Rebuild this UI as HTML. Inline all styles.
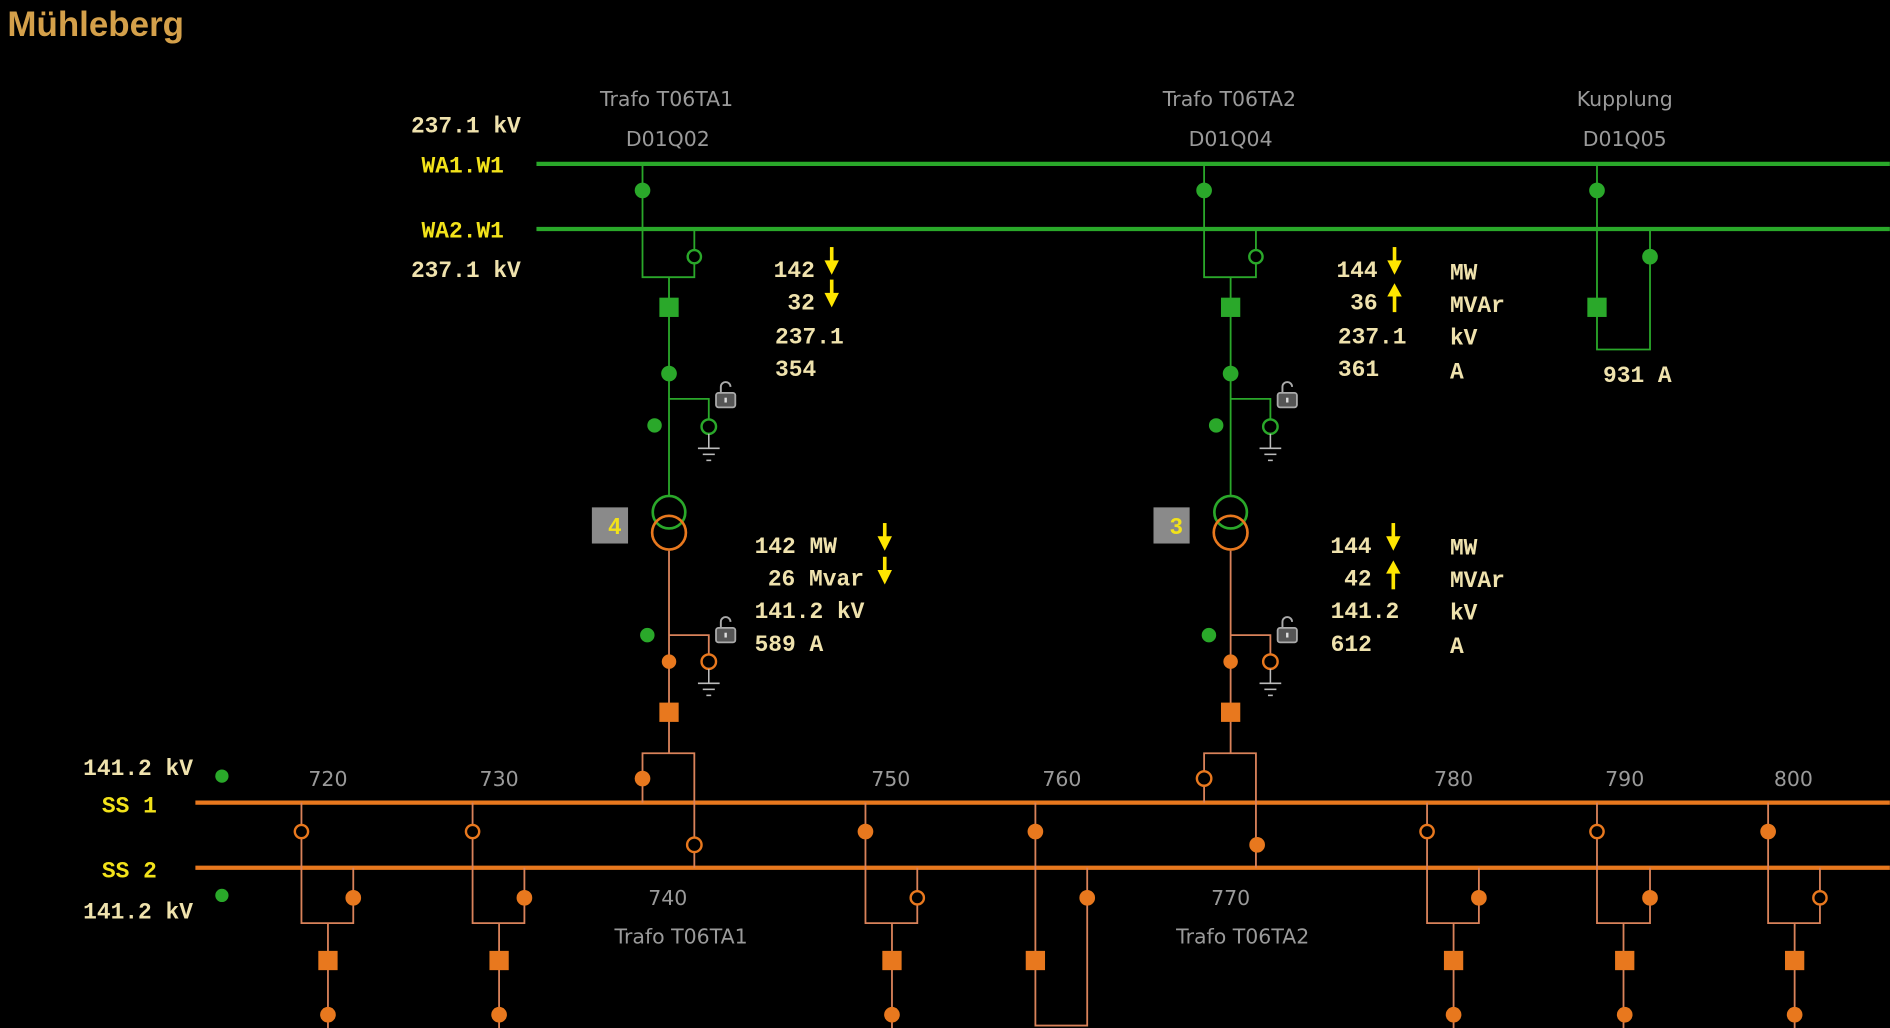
<!DOCTYPE html>
<html><head><meta charset="utf-8"><style>
html,body{margin:0;padding:0;background:#000;}
svg{display:block}
.g{stroke:#2aa82a;fill:none;stroke-width:1.5}
.o{stroke:#d9825a;fill:none;stroke-width:1.5}
.v{font-family:"Liberation Mono",monospace;font-weight:bold;font-size:19px;fill:#efe2ad}
.l{font-family:"DejaVu Sans","Liberation Sans",sans-serif;font-size:17px;fill:#9a9a9a}
.y{font-family:"Liberation Mono",monospace;font-weight:bold;font-size:19px;fill:#f2e21a}
</style></head><body>
<svg width="1890" height="1028" viewBox="0 0 1568 853" xmlns="http://www.w3.org/2000/svg">
<defs>
<g id="gnd" stroke="#bbb" stroke-width="1.3"><line x1="0" y1="0" x2="0" y2="12"/><line x1="-9" y1="12" x2="9" y2="12"/><line x1="-5" y1="17" x2="5" y2="17"/><line x1="-2" y1="22" x2="2" y2="22"/></g>
<g id="lock"><path d="M-4,-2 v-5 a4,4 0 0 1 8,0" stroke="#aaa" stroke-width="1.6" fill="none"/><rect x="-8" y="-2" width="16" height="12" rx="2" fill="#555" stroke="#aaa" stroke-width="1.5"/><rect x="-1" y="2" width="2" height="4" fill="#ddd"/></g>
<g id="dn"><line x1="0" y1="-19" x2="0" y2="-6" stroke="#ffe600" stroke-width="3"/><polygon points="-6,-8 6,-8 0,4" fill="#ffe600"/></g>
<g id="up"><line x1="0" y1="-10" x2="0" y2="4" stroke="#ffe600" stroke-width="3"/><polygon points="-6,-9 6,-9 0,-20" fill="#ffe600"/></g>
</defs>
<rect width="1568" height="853" fill="#000"/>
<text x="6" y="30" font-family="Liberation Sans,sans-serif" font-weight="bold" font-size="29" fill="#d4a04a">Mühleberg</text>

<g class="l" text-anchor="middle">
<text x="553" y="88">Trafo T06TA1</text><text x="554" y="121">D01Q02</text>
<text x="1020" y="88">Trafo T06TA2</text><text x="1021" y="121">D01Q04</text>
<text x="1348" y="88">Kupplung</text><text x="1348" y="121">D01Q05</text>
</g>
<g class="v" text-anchor="end">
<text x="432" y="110">237.1 kV</text><text x="432" y="230">237.1 kV</text>
<text x="160" y="643">141.2 kV</text><text x="160" y="762">141.2 kV</text>
</g>
<g class="y" text-anchor="end">
<text x="418" y="143">WA1.W1</text><text x="418" y="197">WA2.W1</text>
<text x="130" y="674">SS 1</text><text x="130" y="728">SS 2</text>
</g>
<circle cx="184" cy="644" r="5.5" fill="#2aa82a"/><circle cx="184" cy="743" r="5.5" fill="#2aa82a"/>

<line x1="445" y1="136" x2="1568" y2="136" stroke="#2aa82a" stroke-width="3.5"/>
<line x1="445" y1="190" x2="1568" y2="190" stroke="#2aa82a" stroke-width="3.5"/>
<line x1="162" y1="666" x2="1568" y2="666" stroke="#e8781e" stroke-width="3.5"/>
<line x1="162" y1="720" x2="1568" y2="720" stroke="#e8781e" stroke-width="3.5"/>

<g>
<path class="g" d="M533,136 V230 H576 V190 M555,230 V412"/>
<circle cx="533" cy="158" r="6.5" fill="#2aa82a"/>
<circle cx="576" cy="213" r="5.5" fill="#000" stroke="#2aa82a" stroke-width="2"/>
<rect x="547" y="247" width="16" height="16" fill="#2aa82a"/>
<circle cx="555" cy="310" r="6.5" fill="#2aa82a"/>
<path class="g" d="M555,331 H588 V348"/>
<circle cx="588" cy="354" r="6" fill="#000" stroke="#2aa82a" stroke-width="2"/>
<use href="#gnd" x="588" y="360"/>
<circle cx="543" cy="353" r="6" fill="#2aa82a"/>
<use href="#lock" x="602" y="328"/>
<circle cx="555" cy="425" r="13.5" fill="none" stroke="#2aa82a" stroke-width="2.2"/>
<circle cx="555" cy="442" r="14" fill="none" stroke="#e8781e" stroke-width="2.2"/>
<path class="o" d="M555,457 V625 M555,527 H588 V543 M533,666 V625 H576 V720"/>
<circle cx="555" cy="549" r="6" fill="#e8781e"/>
<circle cx="588" cy="549" r="6" fill="#000" stroke="#e8781e" stroke-width="2"/>
<use href="#gnd" x="588" y="555"/>
<circle cx="537" cy="527" r="6" fill="#2aa82a"/>
<use href="#lock" x="602" y="523"/>
<rect x="547" y="583" width="16" height="16" fill="#e8781e"/>
<circle cx="533" cy="646" r="6.5" fill="#e8781e"/>
<circle cx="576" cy="701" r="6" fill="#000" stroke="#e8781e" stroke-width="2"/>
<rect x="491" y="421" width="30" height="30" fill="#8a8a8a"/>
<text x="510" y="443" font-family="Liberation Sans,sans-serif" font-weight="bold" font-size="19" fill="#f2e21a" text-anchor="middle">4</text>
</g>
<g>
<path class="g" d="M999,136 V230 H1042 V190 M1021,230 V412"/>
<circle cx="999" cy="158" r="6.5" fill="#2aa82a"/>
<circle cx="1042" cy="213" r="5.5" fill="#000" stroke="#2aa82a" stroke-width="2"/>
<rect x="1013" y="247" width="16" height="16" fill="#2aa82a"/>
<circle cx="1021" cy="310" r="6.5" fill="#2aa82a"/>
<path class="g" d="M1021,331 H1054 V348"/>
<circle cx="1054" cy="354" r="6" fill="#000" stroke="#2aa82a" stroke-width="2"/>
<use href="#gnd" x="1054" y="360"/>
<circle cx="1009" cy="353" r="6" fill="#2aa82a"/>
<use href="#lock" x="1068" y="328"/>
<circle cx="1021" cy="425" r="13.5" fill="none" stroke="#2aa82a" stroke-width="2.2"/>
<circle cx="1021" cy="442" r="14" fill="none" stroke="#e8781e" stroke-width="2.2"/>
<path class="o" d="M1021,457 V625 M1021,527 H1054 V543 M999,666 V625 H1042 V720"/>
<circle cx="1021" cy="549" r="6" fill="#e8781e"/>
<circle cx="1054" cy="549" r="6" fill="#000" stroke="#e8781e" stroke-width="2"/>
<use href="#gnd" x="1054" y="555"/>
<circle cx="1003" cy="527" r="6" fill="#2aa82a"/>
<use href="#lock" x="1068" y="523"/>
<rect x="1013" y="583" width="16" height="16" fill="#e8781e"/>
<circle cx="999" cy="646" r="6" fill="#000" stroke="#e8781e" stroke-width="2"/>
<circle cx="1043" cy="701" r="6.5" fill="#e8781e"/>
<rect x="957" y="421" width="30" height="30" fill="#8a8a8a"/>
<text x="976" y="443" font-family="Liberation Sans,sans-serif" font-weight="bold" font-size="19" fill="#f2e21a" text-anchor="middle">3</text>
</g>
<path class="g" d="M1325,136 V290 H1369 V190"/>
<circle cx="1325" cy="158" r="6.5" fill="#2aa82a"/>
<rect x="1317" y="247" width="16" height="16" fill="#2aa82a"/>
<circle cx="1369" cy="213" r="6.5" fill="#2aa82a"/>
<text class="v" x="1330" y="317">931 A</text>

<g class="v">
<text x="676" y="230" text-anchor="end">142</text><text x="676" y="257" text-anchor="end">32</text>
<text x="643" y="285">237.1</text><text x="643" y="312">354</text>
<text x="1143" y="230" text-anchor="end">144</text><text x="1143" y="257" text-anchor="end">36</text>
<text x="1110" y="285">237.1</text><text x="1110" y="312">361</text>
<text x="1203" y="232">MW</text><text x="1203" y="259">MVAr</text><text x="1203" y="286">kV</text><text x="1203" y="314">A</text>
<text x="626" y="459">142 MW</text><text x="637" y="486">26 Mvar</text>
<text x="626" y="513">141.2 kV</text><text x="626" y="540">589 A</text>
<text x="1138" y="459" text-anchor="end">144</text><text x="1138" y="486" text-anchor="end">42</text>
<text x="1104" y="513">141.2</text><text x="1104" y="540">612</text>
<text x="1203" y="460">MW</text><text x="1203" y="487">MVAr</text><text x="1203" y="514">kV</text><text x="1203" y="542">A</text>
</g>
<use href="#dn" x="690" y="224"/><use href="#dn" x="690" y="251"/>
<use href="#dn" x="1157" y="224"/><use href="#up" x="1157" y="255"/>
<use href="#dn" x="734" y="453"/><use href="#dn" x="734" y="481"/>
<use href="#dn" x="1156" y="453"/><use href="#up" x="1156" y="485"/>

<g class="l" text-anchor="middle">
<text x="272" y="652">720</text><text x="414" y="652">730</text><text x="739" y="652">750</text>
<text x="881" y="652">760</text><text x="1206" y="652">780</text><text x="1348" y="652">790</text><text x="1488" y="652">800</text>
<text x="554" y="751">740</text><text x="565" y="783">Trafo T06TA1</text>
<text x="1021" y="751">770</text><text x="1031" y="783">Trafo T06TA2</text>
</g>

<g>
<path class="o" d="M250,666 V766 H293 V720 M272,766 V853"/>
<circle cx="250" cy="690" r="5.5" fill="#000" stroke="#e8781e" stroke-width="2"/>
<circle cx="293" cy="745" r="6.5" fill="#e8781e"/>
<rect x="264" y="789" width="16" height="16" fill="#e8781e"/><circle cx="272" cy="842" r="6.5" fill="#e8781e"/>

<path class="o" d="M392,666 V766 H435 V720 M414,766 V853"/>
<circle cx="392" cy="690" r="5.5" fill="#000" stroke="#e8781e" stroke-width="2"/>
<circle cx="435" cy="745" r="6.5" fill="#e8781e"/>
<rect x="406" y="789" width="16" height="16" fill="#e8781e"/><circle cx="414" cy="842" r="6.5" fill="#e8781e"/>

<path class="o" d="M718,666 V766 H761 V720 M740,766 V853"/>
<circle cx="718" cy="690" r="6.5" fill="#e8781e"/>
<circle cx="761" cy="745" r="5.5" fill="#000" stroke="#e8781e" stroke-width="2"/>
<rect x="732" y="789" width="16" height="16" fill="#e8781e"/><circle cx="740" cy="842" r="6.5" fill="#e8781e"/>

<path class="o" d="M859,666 V851 H902 V720"/>
<circle cx="859" cy="690" r="6.5" fill="#e8781e"/>
<circle cx="902" cy="745" r="6.5" fill="#e8781e"/>
<rect x="851" y="789" width="16" height="16" fill="#e8781e"/>

<path class="o" d="M1184,666 V766 H1227 V720 M1206,766 V853"/>
<circle cx="1184" cy="690" r="5.5" fill="#000" stroke="#e8781e" stroke-width="2"/>
<circle cx="1227" cy="745" r="6.5" fill="#e8781e"/>
<rect x="1198" y="789" width="16" height="16" fill="#e8781e"/><circle cx="1206" cy="842" r="6.5" fill="#e8781e"/>

<path class="o" d="M1325,666 V766 H1369 V720 M1347,766 V853"/>
<circle cx="1325" cy="690" r="5.5" fill="#000" stroke="#e8781e" stroke-width="2"/>
<circle cx="1369" cy="745" r="6.5" fill="#e8781e"/>
<rect x="1340" y="789" width="16" height="16" fill="#e8781e"/><circle cx="1348" cy="842" r="6.5" fill="#e8781e"/>

<path class="o" d="M1467,666 V766 H1510 V720 M1489,766 V853"/>
<circle cx="1467" cy="690" r="6.5" fill="#e8781e"/>
<circle cx="1510" cy="745" r="5.5" fill="#000" stroke="#e8781e" stroke-width="2"/>
<rect x="1481" y="789" width="16" height="16" fill="#e8781e"/><circle cx="1489" cy="842" r="6.5" fill="#e8781e"/>
</g>
</svg>
</body></html>
